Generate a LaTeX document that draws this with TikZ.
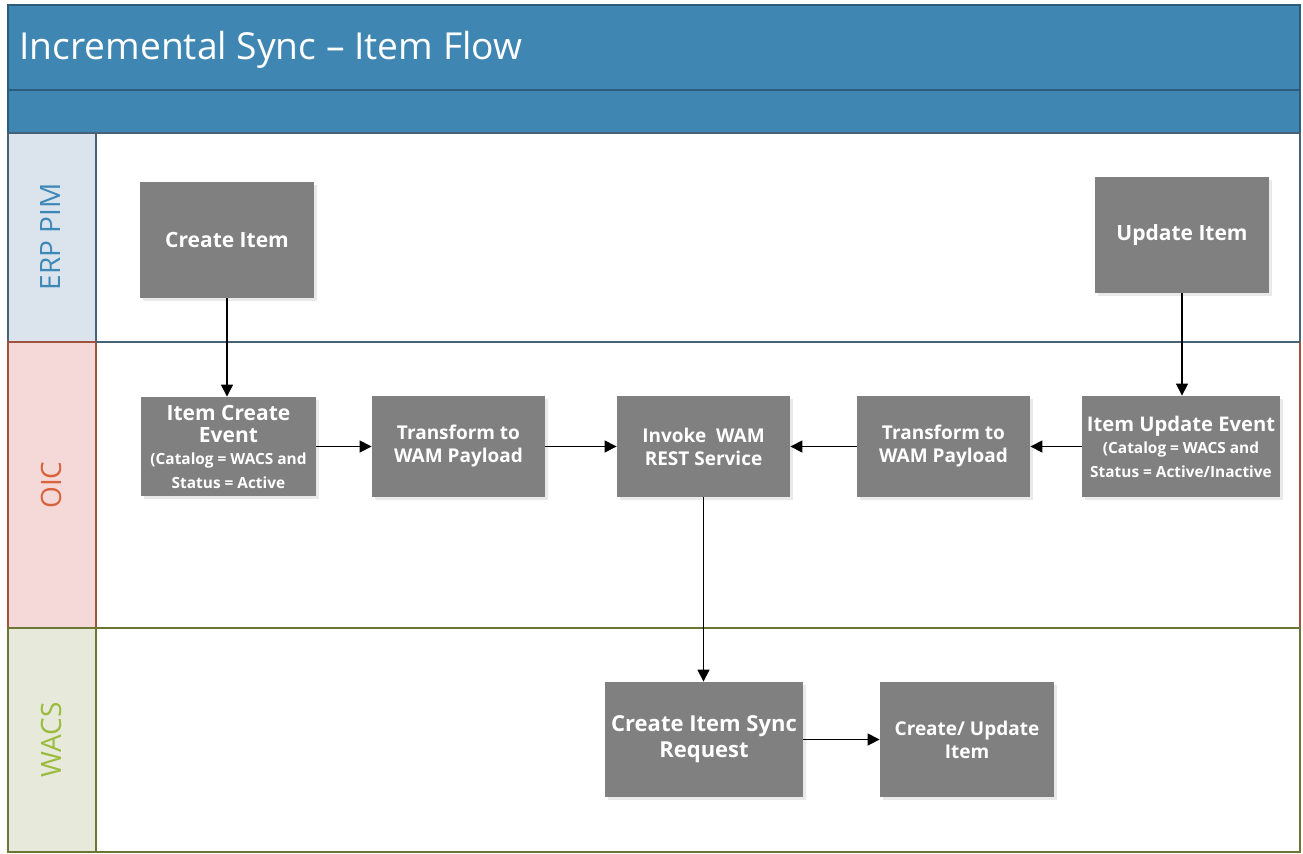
\documentclass[tikz,border=0pt]{standalone}
\usepackage{fontspec}
\setmainfont{Open Sans}
\usetikzlibrary{arrows.meta,shadows}
\definecolor{hdr}{RGB}{64,134,178}
\definecolor{hdrline}{RGB}{44,92,124}
\definecolor{erpbg}{RGB}{219,228,237}
\definecolor{erptxt}{RGB}{62,136,184}
\definecolor{erpline}{RGB}{70,98,118}
\definecolor{oicbg}{RGB}{245,217,216}
\definecolor{oictxt}{RGB}{216,98,58}
\definecolor{oicline}{RGB}{160,82,62}
\definecolor{wacbg}{RGB}{231,234,219}
\definecolor{wactxt}{RGB}{155,187,62}
\definecolor{wacline}{RGB}{108,118,52}
\definecolor{boxg}{RGB}{128,128,128}
\tikzset{
  px/.style={x=0.5pt,y=-0.5pt},
  stepbox/.style={rectangle,fill=boxg,text=white,font=\bfseries,align=center,inner sep=0pt,
    drop shadow={shadow xshift=1.5pt,shadow yshift=-1.5pt,fill=black!12,opacity=0.7}},
  big/.style={font=\fontsize{10.5}{12.5}\selectfont\bfseries},
  mid/.style={font=\fontsize{9.5}{11.5}\selectfont\bfseries},
  flow/.style={draw=black,line width=0.6pt,-{Triangle[length=6pt,width=6pt]}},
  lanelabel/.style={rotate=90,font=\fontsize{14}{16}\selectfont}
}
\newcommand{\smalltxt}{\fontsize{7.7}{11.5}\selectfont}
\begin{document}
\begin{tikzpicture}[px]
\useasboundingbox (0,0) rectangle (1303,853);
\fill[white] (0,0) rectangle (1303,853);
% header
\fill[hdr] (8,5) rectangle (1300,133);
\draw[hdrline,line width=0.6pt] (8,90) -- (1300,90);
\draw[hdrline,line width=0.6pt] (8,5) rectangle (1300,133);
\node[anchor=base west,inner sep=0pt,text=white,font=\fontsize{18.6}{22}\selectfont] (title) at (19,59) {Incremental Sync – Item Flow};
% lanes
\fill[erpbg] (8,133) rectangle (96,342);
\fill[oicbg] (8,342) rectangle (96,628);
\fill[wacbg] (8,628) rectangle (96,852);
\draw[erpline,line width=0.6pt] (8,133) rectangle (1300,342);
\draw[erpline,line width=0.6pt] (96,133) -- (96,342);
\draw[oicline,line width=0.6pt] (8,342) rectangle (1300,628);
\draw[oicline,line width=0.6pt] (96,342) -- (96,628);
\draw[wacline,line width=0.6pt] (8,628) rectangle (1300,852);
\draw[wacline,line width=0.6pt] (96,628) -- (96,852);
\draw[erpline,line width=0.6pt] (96,342) -- (1300,342);
\node[lanelabel,text=erptxt] (lerp) at (51,237) {ERP PIM};
\node[lanelabel,text=oictxt] (loic) at (51,485) {OIC};
\node[lanelabel,text=wactxt] (lwac) at (51,740) {WACS};
% boxes
\node[stepbox,big,minimum width=87pt,minimum height=58pt] (create) at (227,240) {Create Item};
\node[stepbox,big,minimum width=87pt,minimum height=58pt] (update) at (1182,235) {Update Item};
\node[stepbox,minimum width=87.5pt,minimum height=49.5pt] (cev) at (228.5,446.5)
  {{\fontsize{10.5}{12}\selectfont Item Create}\\[-1pt]{\fontsize{10.5}{12}\selectfont Event}\\[-1pt]{\smalltxt (Catalog = WACS and}\\{\smalltxt Status = Active}};
\node[stepbox,mid,minimum width=86.5pt,minimum height=50.5pt] (tr1) at (458.5,446.5) {Transform to\\WAM Payload};
\node[stepbox,mid,minimum width=86.5pt,minimum height=50.5pt] (inv) at (703.5,446.5) {Invoke~ WAM\\REST Service};
\node[stepbox,mid,minimum width=86.5pt,minimum height=50.5pt] (tr2) at (943.5,446.5) {Transform to\\WAM Payload};
\node[stepbox,minimum width=99pt,minimum height=50.5pt] (uev) at (1181,446.5)
  {{\fontsize{10.1}{12}\selectfont Item Update Event}\\[-1pt]{\smalltxt (Catalog = WACS and}\\{\smalltxt Status = Active/Inactive}};
\node[stepbox,font=\fontsize{11}{13}\selectfont\bfseries,minimum width=99pt,minimum height=57.5pt] (sync) at (704,739.5) {Create Item Sync\\Request};
\node[stepbox,mid,minimum width=87pt,minimum height=57.5pt] (cu) at (967,739.5) {Create/ Update\\Item};
% connectors
\draw[flow] (create.south) -- (create.south |- cev.north);
\draw[flow] (update.south) -- (update.south |- uev.north);
\draw[flow] (cev) -- (tr1);
\draw[flow] (tr1) -- (inv);
\draw[flow] (tr2) -- (inv);
\draw[flow] (uev) -- (tr2);
\draw[flow] (inv.south) -- (inv.south |- sync.north);
\draw[flow] (sync) -- (cu);
\end{tikzpicture}
\end{document}
